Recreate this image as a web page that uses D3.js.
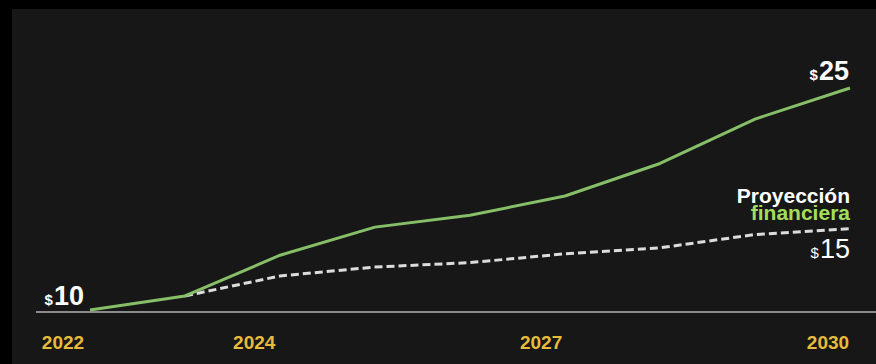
<!DOCTYPE html>
<html><head><meta charset="utf-8">
<script src="https://cdn.jsdelivr.net/npm/d3@7"></script>
<style>html,body{margin:0;padding:0;background:#000;}svg{display:block;}</style>
</head><body>
<svg id="c" width="876" height="364"></svg>
<script>
const years = [2022, 2023, 2024, 2025, 2026, 2027, 2028, 2029, 2030];
const projected = [10, 10.95, 13.7, 15.6, 16.4, 17.7, 19.9, 22.9, 25.0];
const baseline = [null, 10.95, 12.3, 12.9, 13.2, 13.8, 14.2, 15.1, 15.5];
const tickYears = [2022, 2024, 2027, 2030];
const startLabel = "10", endLabel = "25", baseLabel = "15";

const svg = d3.select("#c");
const W = 876, H = 364;
svg.append("rect").attr("x", 12).attr("y", 9).attr("width", W - 12).attr("height", H - 9).attr("fill", "#171717");

const x = d3.scaleLinear().domain([2022, 2030]).range([90, 850]);
const xl = d3.scaleLinear().domain([2022, 2030]).range([63, 828]);
const y = d3.scaleLinear().domain([10, 25]).range([310, 88]);

// axis line
svg.append("line").attr("x1", 36).attr("x2", W).attr("y1", 312).attr("y2", 312)
  .attr("stroke", "#8a8a8a").attr("stroke-width", 2);

// tick labels
svg.selectAll("text.yr").data(tickYears).join("text").attr("class", "yr")
  .attr("x", d => xl(d)).attr("y", 349).attr("text-anchor", "middle")
  .attr("font-family", "Liberation Sans, Arial, sans-serif").attr("font-weight", "bold")
  .attr("font-size", 19).attr("fill", "#e8bb3a").text(d => d);

const line = d3.line().defined(d => d[1] != null).x(d => x(d[0])).y(d => y(d[1]));
const baseData = years.map((yr, i) => [yr, baseline[i]]);
const projData = years.map((yr, i) => [yr, projected[i]]);

svg.append("path").datum(baseData).attr("d", line).attr("fill", "none")
  .attr("stroke", "#dcdcdc").attr("stroke-width", 3).attr("stroke-dasharray", "8,4");
svg.append("path").datum(projData).attr("d", line).attr("fill", "none")
  .attr("stroke", "#86bf68").attr("stroke-width", 3).attr("stroke-linejoin", "round");

const font = "Liberation Sans, Arial, sans-serif";
function money(xpos, ypos, val, weight, anchor) {
  const t = svg.append("text").attr("x", xpos).attr("y", ypos).attr("text-anchor", anchor)
    .attr("font-family", font).attr("fill", "#fff").attr("font-weight", weight);
  t.append("tspan").attr("font-size", 15).text("$");
  t.append("tspan").attr("font-size", 27).attr("dx", 1).text(val);
}
money(x(2022) - 6, y(projected[0]) - 5, startLabel, "bold", "end");
money(x(2030) - 1, y(projected[8]) - 8, endLabel, "bold", "end");
money(x(2030), y(baseline[8]) + 29, baseLabel, "normal", "end");

svg.append("text").attr("x", 850).attr("y", 203).attr("text-anchor", "end")
  .attr("font-family", font).attr("font-weight", "bold").attr("font-size", 21)
  .attr("fill", "#ffffff").text("Proyección");
svg.append("text").attr("x", 850).attr("y", 220).attr("text-anchor", "end")
  .attr("font-family", font).attr("font-weight", "bold").attr("font-size", 21)
  .attr("fill", "#a3de5a").text("financiera");
</script>
</body></html>
